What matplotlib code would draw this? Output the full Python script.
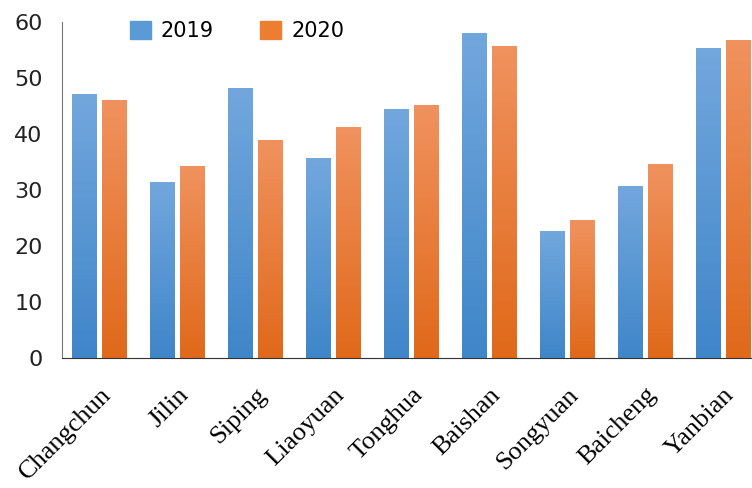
import numpy as np
import matplotlib.pyplot as plt
import matplotlib.transforms as mtrans
from matplotlib.colors import LinearSegmentedColormap
from matplotlib.patches import Patch

# data
cities = ["Changchun", "Jilin", "Siping", "Liaoyuan", "Tonghua",
          "Baishan", "Songyuan", "Baicheng", "Yanbian"]
v2019 = [47.1, 31.3, 48.2, 35.7, 44.4, 57.9, 22.5, 30.6, 55.3]
v2020 = [45.9, 34.2, 38.8, 41.2, 45.0, 55.6, 24.5, 34.6, 56.7]

blue_top, blue_bot = "#72a7dd", "#3f86c9"
orng_top, orng_bot = "#f0925e", "#e0691a"

fig = plt.figure(figsize=(7.52, 4.88), dpi=100)
ax = fig.add_axes([0.0824, 0.2664, 0.9176, 0.6886])

x = np.arange(len(cities))
w = 0.31
off = 0.192

grad = np.linspace(0, 1, 100).reshape(-1, 1)


def draw_bars(xs, vals, top, bot):
    cmap = LinearSegmentedColormap.from_list("g", [bot, top])
    bars = ax.bar(xs, vals, w, color="none", edgecolor="none")
    for b in bars:
        x0 = b.get_x()
        ax.imshow(grad, extent=[x0, x0 + b.get_width(), 0, b.get_height()],
                  origin="lower", aspect="auto", cmap=cmap, zorder=2)


draw_bars(x - off, v2019, blue_top, blue_bot)
draw_bars(x + off, v2020, orng_top, orng_bot)

ax.set_xlim(-0.48, 8.37)
ax.set_ylim(0, 60)
ax.set_yticks(range(0, 61, 10))
ax.set_xticks(x)
ax.set_xticklabels(cities, rotation=45, ha="right", va="center",
                   rotation_mode="anchor",
                   fontfamily="Liberation Serif", fontsize=19)
ax.tick_params(axis="y", length=0, labelsize=16, pad=14, labelcolor="#222222")
ax.tick_params(axis="x", length=0, pad=24)

# nudge the slanted labels a little to the right, like the original
shift = mtrans.ScaledTranslation(8 / 100, 0, fig.dpi_scale_trans)
for lab in ax.get_xticklabels():
    lab.set_transform(lab.get_transform() + shift)

for s in ["top", "right"]:
    ax.spines[s].set_visible(False)
ax.spines["left"].set_color("#777777")
ax.spines["bottom"].set_color("#333333")

handles = [Patch(color="#5b9bd5", label="2019"),
           Patch(color="#ed7d31", label="2020")]
ax.legend(handles=handles, ncol=2, frameon=False, loc="upper left",
          bbox_to_anchor=(0.071, 1.06), fontsize=15, handlelength=1,
          handleheight=1, columnspacing=2.2, handletextpad=0.5)

fig.savefig("out.png", dpi=100)
